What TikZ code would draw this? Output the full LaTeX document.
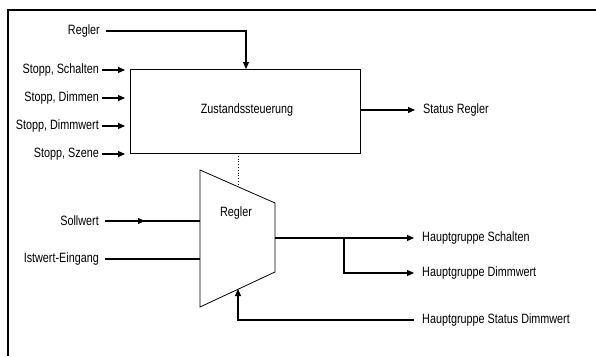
\documentclass[tikz,border=0pt]{standalone}
\usepackage{fontspec}
\setmainfont[FakeStretch=0.8]{Liberation Sans}
\usetikzlibrary{arrows.meta}
\begin{document}
\begin{tikzpicture}[x=1pt,y=-1pt,
  lbl/.style={inner sep=0pt,font=\fontsize{13.5}{15}\selectfont},
  lbll/.style={lbl,anchor=east},
  lblr/.style={lbl,anchor=west},
  wire/.style={line width=1.1pt},
  arr/.style={wire,-{Triangle[length=7pt,width=6pt]}},
  blk/.style={draw,line width=0.8pt}]
\useasboundingbox (0,0) rectangle (596,356);
\draw[line width=2.6pt] (8,356) -- (8,10) -- (596,10);

% state box
\node[blk,minimum width=230pt,minimum height=84pt,inner sep=0pt] (zs) at (245,111) {};
\node[lbl] (zst) at (247,110) {Zustandssteuerung};

% trapezoid regler
\coordinate (tl) at (200,170);
\coordinate (tr) at (275,203);
\coordinate (br) at (275,272);
\coordinate (bl) at (200,307);
\draw[blk] (tl) -- (tr) -- (br) -- (bl) -- cycle;
\node[lbl] (rg) at (236,213) {Regler};

% dotted link
\coordinate (dz) at (238,153);
\coordinate (dt) at (238,185);
\draw[dotted,line width=0.8pt] (dz) -- (dt);

% top Regler input
\node[lbll] (lreg) at (100,31) {Regler};
\coordinate (c1) at (246,31);
\coordinate (c1e) at (246,69);
\draw[arr] (lreg.east) ++(6,0) coordinate (c0) (c0) -- (c1) -- (c1e);

% Stopp inputs
\node[lbll] (s1) at (99,70) {Stopp, Schalten};
\node[lbll] (s2) at (99,98) {Stopp, Dimmen};
\node[lbll] (s3) at (99,126) {Stopp, Dimmwert};
\node[lbll] (s4) at (99,154) {Stopp, Szene};
\foreach \n in {s1,s2,s3,s4}{
  \draw[arr] (\n.east) ++(3,0) coordinate (a\n) (a\n) -- ++(23,0);
}

% Status Regler
\node[lblr] (sr) at (423,110) {Status Regler};
\draw[arr] (zs.east |- sr) -- ([xshift=-8pt]sr.west);

% Sollwert
\node[lbll] (sw) at (99,221) {Sollwert};
\coordinate (swm) at (145,221);
\coordinate (swe) at (200,221);
\draw[wire] ([xshift=6pt]sw.east) -- (swe);
\draw[arr] ([xshift=6pt]sw.east) -- (swm);

% Istwert
\node[lbll] (iw) at (99,259) {Istwert-Eingang};
\coordinate (iwe) at (200,259);
\draw[wire] ([xshift=6pt]iw.east) -- (iwe);

% outputs
\node[lblr] (hs) at (422,238) {Hauptgruppe Schalten};
\node[lblr] (hd) at (422,273) {Hauptgruppe Dimmwert};
\node[lblr] (hsd) at (422,320) {Hauptgruppe Status Dimmwert};
\coordinate (o1) at (275,238);
\coordinate (br1) at (344,238);
\coordinate (br2) at (344,273);
\draw[arr] (o1) -- ([xshift=-8pt]hs.west);
\draw[arr] (br1) -- (br2) -- ([xshift=-8pt]hd.west);

% feedback
\coordinate (fb1) at (238,320);
\coordinate (fb2) at (238,289);
\draw[arr] ([xshift=-8pt]hsd.west) -- (fb1) -- (fb2);
\end{tikzpicture}
\end{document}
